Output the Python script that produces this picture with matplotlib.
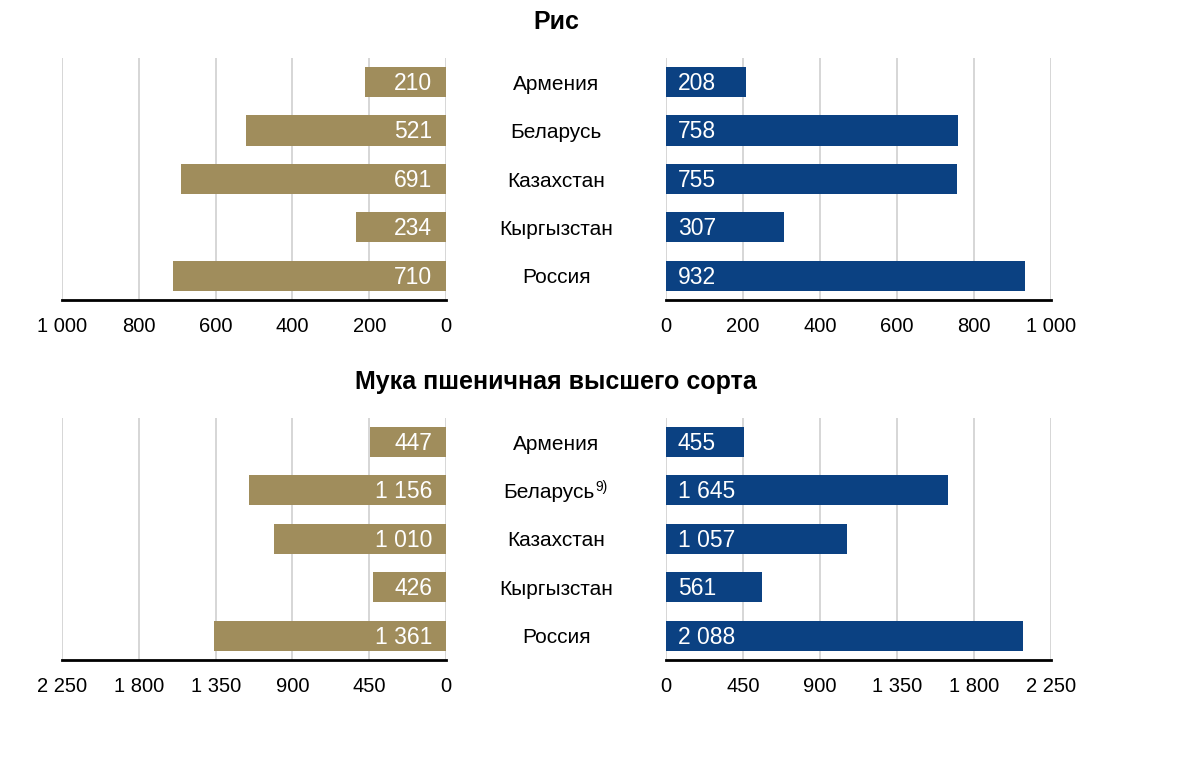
import matplotlib.pyplot as plt
from matplotlib.ticker import FuncFormatter

plt.rcParams['font.family'] = ['Liberation Sans', 'DejaVu Sans']

countries = ["Армения", "Беларусь", "Казахстан", "Кыргызстан", "Россия"]

rice_left = [210, 521, 691, 234, 710]
rice_right = [208, 758, 755, 307, 932]
rice_ticks = [0, 200, 400, 600, 800, 1000]

flour_left = [447, 1156, 1010, 426, 1361]
flour_right = [455, 1645, 1057, 561, 2088]
flour_ticks = [0, 450, 900, 1350, 1800, 2250]

titles = ["Рис", "Мука пшеничная высшего сорта"]

tan = '#A08D5C'
blue = '#0B4182'


def fmt(v, pos=None):
    return "{:,}".format(int(v)).replace(",", " ")


fig = plt.figure(figsize=(12, 7.81), dpi=100)

panels = [
    (rice_left, rice_right, rice_ticks, 0.6159),
    (flour_left, flour_right, flour_ticks, 0.155),
]

for k, (lv, rv, ticks, bot) in enumerate(panels):
    h = 0.31
    axl = fig.add_axes([0.0517, bot, 0.32, h])
    axr = fig.add_axes([0.555, bot, 0.321, h])
    y = list(range(len(countries)))
    axl.barh(y, lv, height=0.62, color=tan, zorder=2)
    axr.barh(y, rv, height=0.62, color=blue, zorder=2)
    for ax in (axl, axr):
        ax.set_xlim(0, ticks[-1])
        ax.set_ylim(4.5, -0.5)
        ax.set_xticks(ticks)
        ax.xaxis.set_major_formatter(FuncFormatter(fmt))
        ax.set_yticks([])
        ax.grid(axis='x', color='#d0d0d0', lw=1.2, zorder=0)
        for s in ('top', 'left', 'right'):
            ax.spines[s].set_visible(False)
        ax.spines['bottom'].set_linewidth(2)
        ax.spines['bottom'].set_color('black')
        ax.tick_params(axis='x', length=0, pad=12, labelsize=14.5)
    axl.invert_xaxis()
    for i in y:
        axl.annotate(fmt(lv[i]), xy=(0, i), xytext=(-10, -1), textcoords='offset points',
                     ha='right', va='center', color='white', fontsize=16.5)
        axr.annotate(fmt(rv[i]), xy=(0, i), xytext=(8.5, -1), textcoords='offset points',
                     ha='left', va='center', color='white', fontsize=16.5)
        if k == 1 and countries[i] == "Беларусь":
            t = axl.annotate(countries[i], xy=(0, i), xycoords='data',
                             xytext=(0.4575, -1.5), textcoords=('figure fraction', 'offset points'),
                             ha='center', va='center', fontsize=15)
            axl.annotate("9)", xy=(1, 1), xycoords=t, xytext=(0.5, 2),
                         textcoords='offset points', ha='left', va='top', fontsize=10)
        else:
            axl.annotate(countries[i], xy=(0, i), xycoords='data',
                         xytext=(0.4635, -1.5), textcoords=('figure fraction', 'offset points'),
                         ha='center', va='center', fontsize=15)
    fig.text(0.4635, bot + h + 0.046, titles[k], ha='center', va='center',
             fontsize=18, fontweight='bold')

fig.savefig('out.png', dpi=100)
